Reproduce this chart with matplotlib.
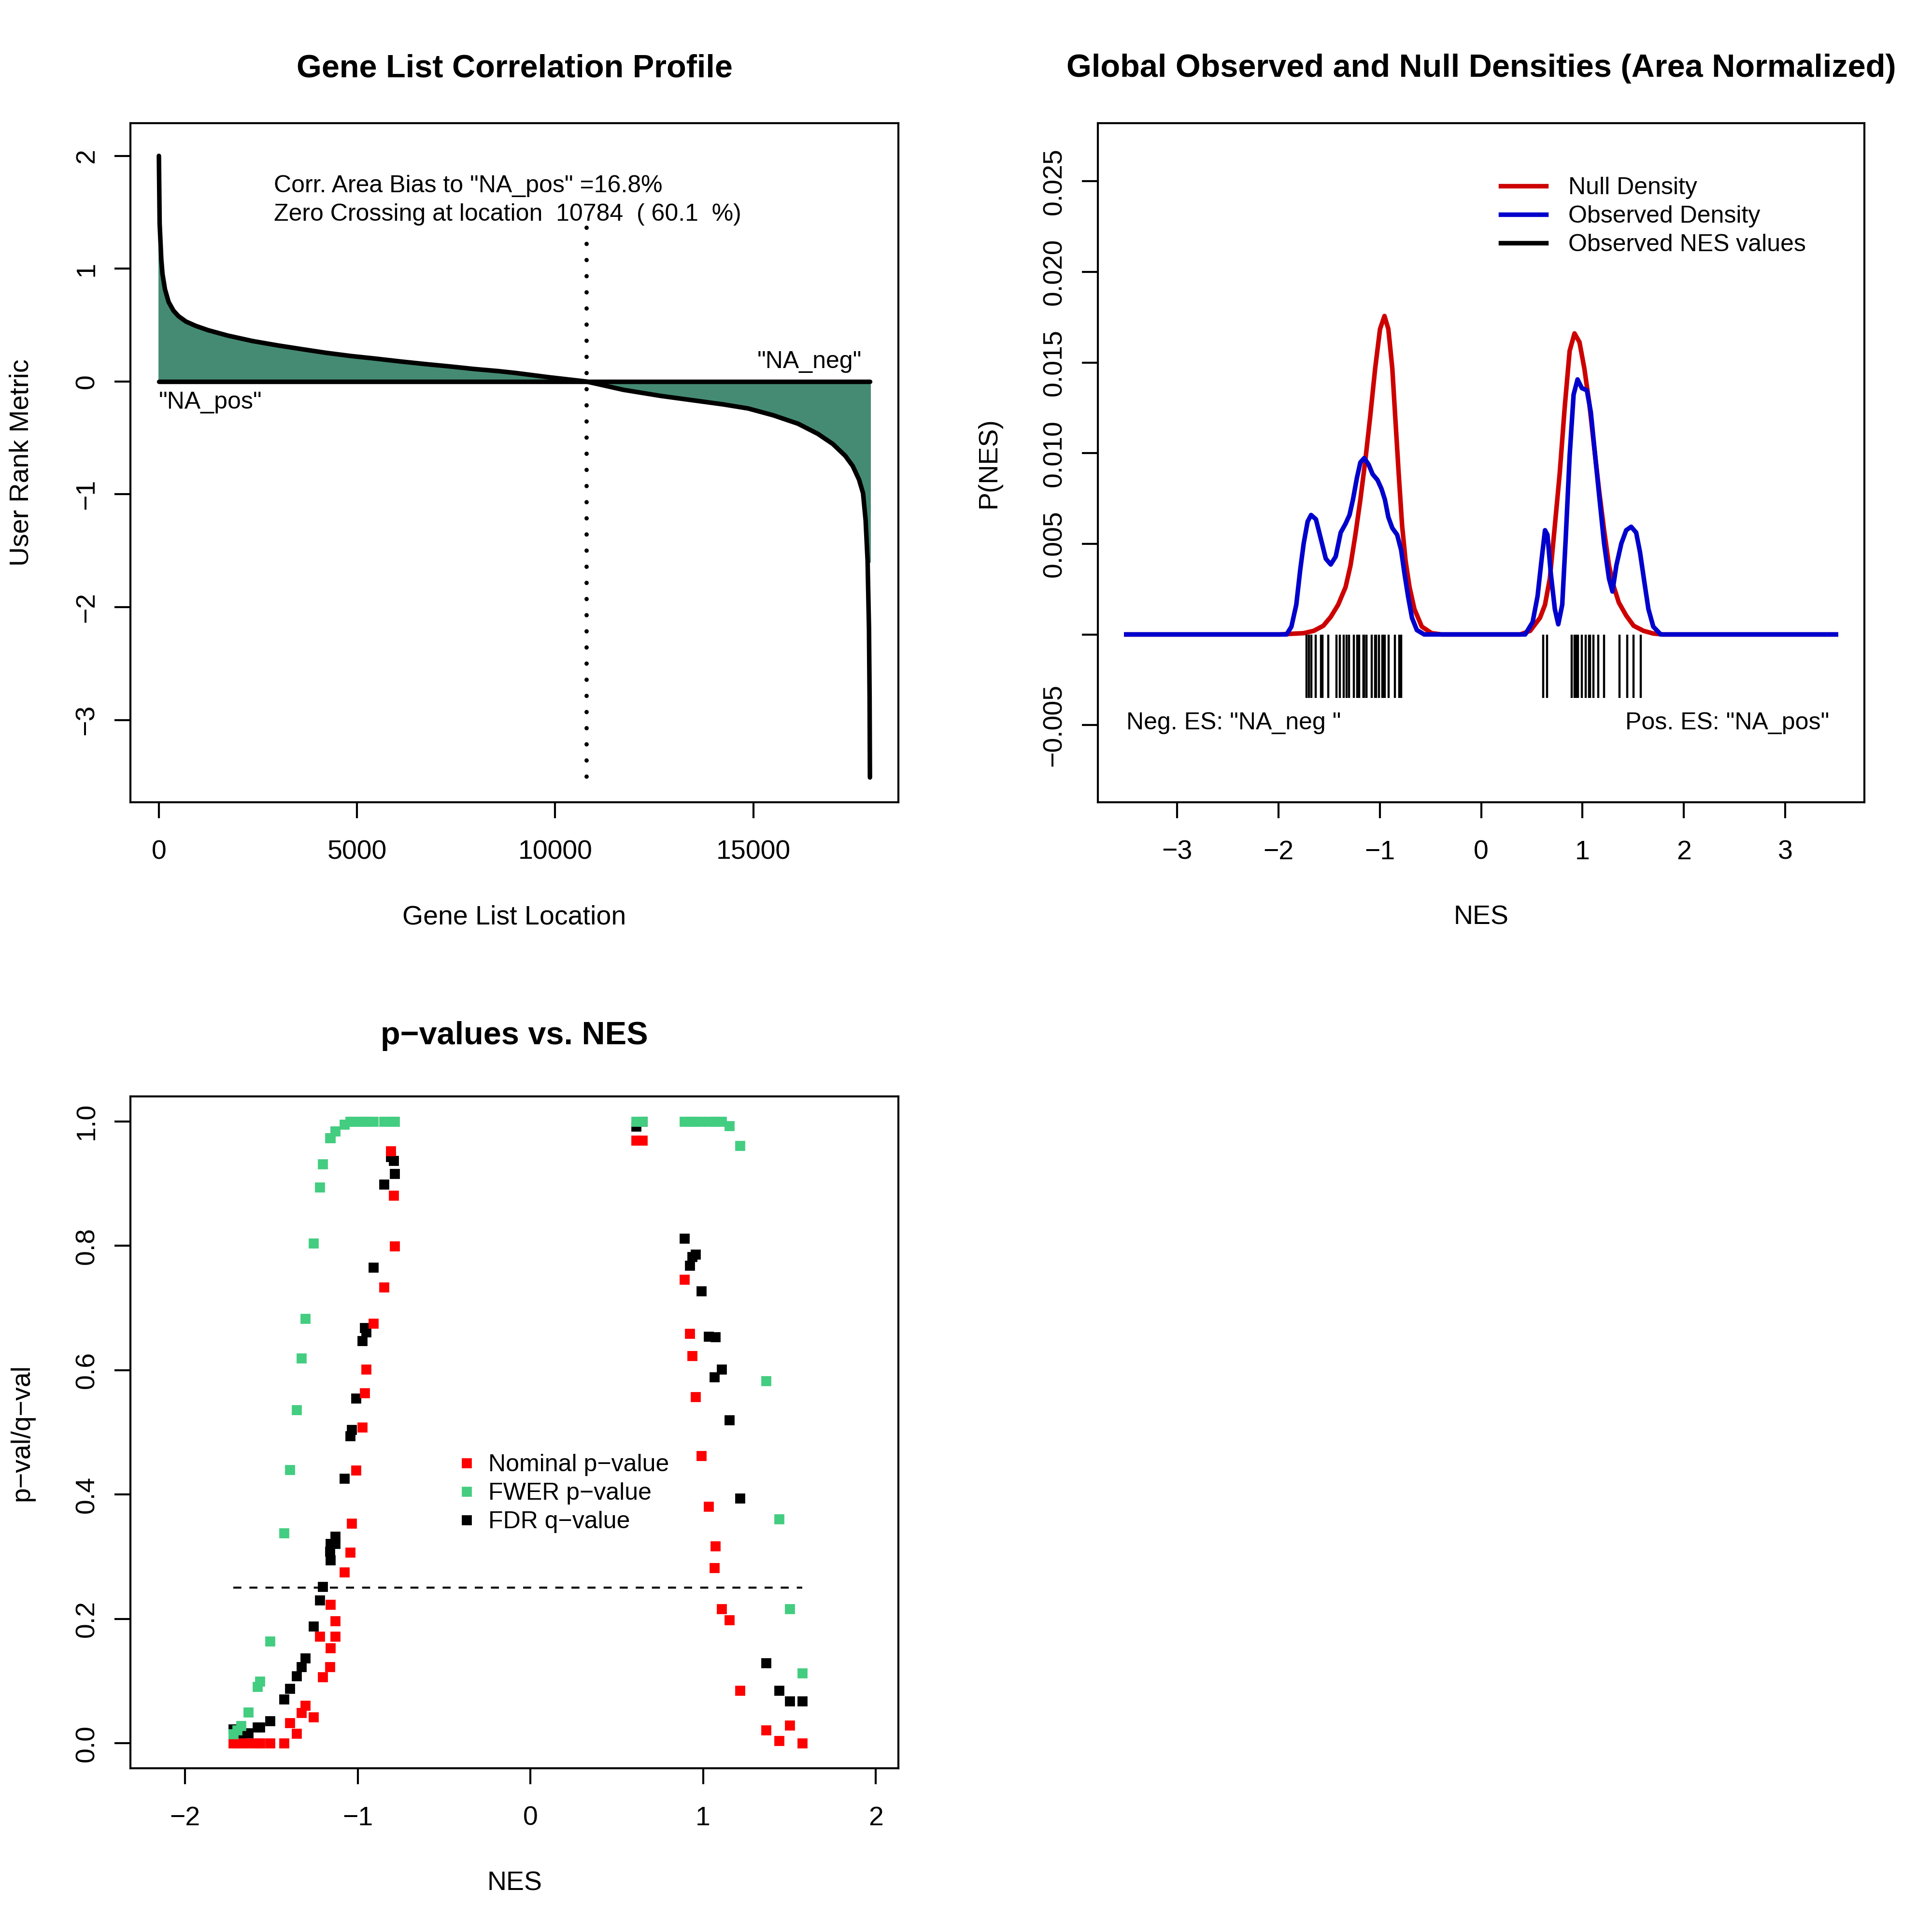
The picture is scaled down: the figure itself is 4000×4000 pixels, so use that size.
import numpy as np
from matplotlib import pyplot
from matplotlib.lines import Line2D

pyplot.rcParams["font.family"] = ["Liberation Sans", "DejaVu Sans"]
pyplot.rcParams["font.size"] = 10
pyplot.rcParams["axes.linewidth"] = 0.75

# Gene list correlation profile (ranked metric along the gene list)
gene_location = [1, 20, 61, 92, 154, 247, 371, 496, 682, 931, 1241, 1739, 2360, 2981,
                 3602, 4223, 4844, 5465, 6086, 6707, 7328, 7949, 8570, 8993, 9839, 10784,
                 11725, 12669, 13612, 14241, 14870, 15499, 16128, 16630, 17008, 17322,
                 17511, 17669, 17770, 17835, 17885, 17920, 17935, 17944]
rank_metric = [2.0, 1.40, 1.086, 0.952, 0.818, 0.704, 0.627, 0.579, 0.532, 0.493, 0.455,
               0.407, 0.359, 0.321, 0.287, 0.254, 0.226, 0.203, 0.178, 0.155, 0.134, 0.111,
               0.092, 0.076, 0.038, 0.0, -0.074, -0.128, -0.173, -0.203, -0.239, -0.299,
               -0.374, -0.464, -0.554, -0.659, -0.750, -0.870, -0.990, -1.23, -1.59, -2.19,
               -2.79, -3.51]
zero_crossing = 10784
fill_floor = -1.6
crossing_line_top = 1.366
profile_text = ['Corr. Area Bias to "NA_pos" =16.8%',
                'Zero Crossing at location  10784  ( 60.1  %)']

# Global observed and null densities
null_nes = [-3.5, -1.99, -1.75, -1.65, -1.556, -1.483, -1.41, -1.337, -1.288, -1.24, -1.191,
            -1.142, -1.094, -1.045, -0.997, -0.953, -0.915, -0.876, -0.842, -0.813, -0.779,
            -0.745, -0.706, -0.658, -0.585, -0.488, -0.39, 0.386, 0.484, 0.581, 0.63, 0.678,
            0.727, 0.775, 0.824, 0.873, 0.921, 0.970, 1.018, 1.067, 1.115, 1.164, 1.213,
            1.261, 1.310, 1.358, 1.431, 1.504, 1.601, 1.698, 1.795, 3.5]
null_density = [0, 0, 0.00007, 0.0002, 0.00048, 0.00097, 0.00164, 0.00261, 0.00381, 0.0055,
                0.00744, 0.00961, 0.01202, 0.01468, 0.01685, 0.01757, 0.01685, 0.01468,
                0.01154, 0.00888, 0.00599, 0.00406, 0.00261, 0.0014, 0.00043, 0.00007, 0, 0,
                0.0002, 0.00092, 0.00164, 0.00309, 0.00599, 0.00888, 0.0125, 0.01564,
                0.01661, 0.01613, 0.01468, 0.01275, 0.01033, 0.00792, 0.00575, 0.00381,
                0.00261, 0.00176, 0.00104, 0.00048, 0.0002, 0.00005, 0, 0]
obs_nes = [-3.5, -1.919, -1.871, -1.823, -1.784, -1.75, -1.711, -1.677, -1.629, -1.58, -1.532,
           -1.483, -1.434, -1.385, -1.337, -1.298, -1.264, -1.225, -1.191, -1.153, -1.109,
           -1.07, -1.022, -0.983, -0.949, -0.915, -0.876, -0.828, -0.789, -0.755, -0.721,
           -0.682, -0.634, -0.561, 0.435, 0.508, 0.557, 0.595, 0.630, 0.654, 0.688, 0.727,
           0.761, 0.80, 0.834, 0.873, 0.912, 0.951, 0.994, 1.043, 1.082, 1.125, 1.164, 1.213,
           1.261, 1.295, 1.334, 1.383, 1.431, 1.480, 1.529, 1.567, 1.611, 1.650, 1.698,
           1.771, 3.5]
obs_density = [0, 0, 0.00043, 0.00164, 0.00357, 0.00502, 0.00623, 0.00659, 0.00635, 0.00526,
               0.00418, 0.00386, 0.0043, 0.00562, 0.00611, 0.00659, 0.00744, 0.00864, 0.00949,
               0.00973, 0.00937, 0.00884, 0.00852, 0.00804, 0.00744, 0.00647, 0.00587, 0.0055,
               0.00466, 0.00333, 0.00212, 0.00092, 0.00024, 0, 0, 0.00068, 0.00212, 0.00406,
               0.00575, 0.0055, 0.00333, 0.0014, 0.00056, 0.00164, 0.00526, 0.00985, 0.01323,
               0.01407, 0.01359, 0.01347, 0.01226, 0.00985, 0.00768, 0.00502, 0.00309,
               0.00237, 0.00381, 0.00502, 0.00575, 0.00594, 0.00562, 0.00454, 0.00285,
               0.0014, 0.00043, 0, 0]
rug_depth = -0.0035

# Per gene set results
nes = [-1.721, -1.697, -1.676, -1.633, -1.581, -1.567, -1.509, -1.427, -1.392, -1.355,
       -1.327, -1.303, -1.257, -1.220, -1.202, -1.161, -1.159, -1.157, -1.131, -1.129,
       -1.077, -1.044, -1.035, -1.009, -0.973, -0.960, -0.952, -0.910, -0.848, -0.809,
       -0.792, -0.787,
       0.613, 0.648, 0.891, 0.923, 0.938, 0.956, 0.991, 1.031, 1.066, 1.072, 1.108, 1.153,
       1.214, 1.364, 1.440, 1.503, 1.573]
nominal_p = [0, 0, 0, 0, 0, 0, 0, 0, 0.033, 0.016, 0.049, 0.061, 0.042, 0.172, 0.107, 0.123,
             0.153, 0.223, 0.197, 0.172, 0.275, 0.307, 0.354, 0.439, 0.508, 0.563, 0.601,
             0.675, 0.733, 0.952, 0.881, 0.799,
             0.969, 0.969, 0.746, 0.659, 0.623, 0.557, 0.462, 0.381, 0.282, 0.317, 0.216,
             0.198, 0.085, 0.021, 0.004, 0.029, 0.0]
fwer_p = [0.015, 0.021, 0.028, 0.050, 0.091, 0.100, 0.164, 0.338, 0.440, 0.536, 0.619, 0.683,
          0.804, 0.894, 0.931, 0.973, 0.973, 0.973, 0.984, 0.984, 0.995, 1, 1, 1, 1, 1, 1, 1,
          1, 1, 1, 1,
          1, 1, 1, 1, 1, 1, 1, 1, 1, 1, 1, 0.993, 0.961, 0.583, 0.361, 0.216, 0.113]
fdr_q = [0.023, 0.019, 0.012, 0.017, 0.026, 0.026, 0.036, 0.071, 0.088, 0.108, 0.123, 0.137,
         0.188, 0.230, 0.252, 0.309, 0.295, 0.321, 0.333, 0.321, 0.426, 0.494, 0.504, 0.555,
         0.647, 0.668, 0.661, 0.765, 0.899, 0.943, 0.937, 0.916,
         0.992, 1.0, 0.812, 0.768, 0.782, 0.786, 0.727, 0.654, 0.589, 0.653, 0.601, 0.520,
         0.394, 0.129, 0.085, 0.068, 0.068]
fdr_cutoff = 0.25

MINUS = "\u2212"
FIG_PX = 4000
NOTE_SIZE = 9


def axes_rect(left, top, right, bottom):
    """Axes rectangle in figure fraction from pixel edges"""
    return [left / FIG_PX, 1 - bottom / FIG_PX, (right - left) / FIG_PX, (bottom - top) / FIG_PX]


def style_axes(ax, size_px, title, title_pad, xlabel, ylabel):
    """R like box, ticks, rotated y tick labels and label placement"""
    width, height = size_px
    ax.set_title(title, fontsize=12, fontweight="bold", pad=title_pad)
    ax.set_xlabel(xlabel, fontsize=10)
    ax.set_ylabel(ylabel, fontsize=10)
    ax.xaxis.set_label_coords(0.5, -238 / height)
    ax.yaxis.set_label_coords(-225 / width, 0.5)
    ax.xaxis.label.set_va("center")
    ax.yaxis.label.set_va("center")
    ax.tick_params(direction="out", length=6, width=0.75, labelsize=10)
    ax.tick_params(axis="x", pad=8)
    ax.tick_params(axis="y", pad=5.5)
    pyplot.setp(ax.get_yticklabels(), rotation=90, va="center")


fig = pyplot.figure(figsize=(10, 10), dpi=400)

# --- Gene List Correlation Profile
ax1 = fig.add_axes(axes_rect(270, 255, 1860, 1661))
ax1.fill_between(gene_location, np.maximum(rank_metric, fill_floor), 0,
                 color="#458B74", edgecolor="#458B74", lw=0.5)
ax1.plot(gene_location, rank_metric, color="black", lw=1.7,
         solid_capstyle="round", solid_joinstyle="round")
ax1.plot([gene_location[0], gene_location[-1]], [0, 0], color="black", lw=1.7,
         solid_capstyle="round")
# drawn top down so the dot pattern starts at the upper end
ax1.plot([zero_crossing, zero_crossing], [crossing_line_top, min(rank_metric)],
         color="black", lw=1.6, linestyle=(0, (0.01, 3.75)), dash_capstyle="round")
ax1.text(2900, 1.735, profile_text[0], fontsize=NOTE_SIZE, va="center", ha="left")
ax1.text(2900, 1.48, profile_text[1], fontsize=NOTE_SIZE, va="center", ha="left")
ax1.text(gene_location[0], -0.185, '"NA_pos"', fontsize=NOTE_SIZE, va="center", ha="left")
ax1.text(17735, 0.173, '"NA_neg"', fontsize=NOTE_SIZE, va="center", ha="right")
ax1.set_xlim(-0.04 * gene_location[-1], 1.04 * gene_location[-1])
ax1.set_ylim(-3.73, 2.29)
ax1.set_xticks([0, 5000, 10000, 15000])
ax1.set_yticks([-3, -2, -1, 0, 1, 2])
style_axes(ax1, (1590, 1406), "Gene List Correlation Profile", 17.2,
           "Gene List Location", "User Rank Metric")

# --- Global Observed and Null Densities
ax2 = fig.add_axes(axes_rect(2273, 255, 3860, 1661))
ax2.plot(null_nes, null_density, color="#CD0000", lw=1.7, solid_joinstyle="round")
ax2.plot(obs_nes, obs_density, color="#0000CD", lw=1.7, solid_joinstyle="round")
ax2.vlines(nes, rug_depth, 0, color="black", lw=0.8)
ax2.text(-3.5, -0.0049, 'Neg. ES: "NA_neg "', fontsize=NOTE_SIZE, va="center", ha="left")
ax2.text(3.435, -0.0049, 'Pos. ES: "NA_pos"', fontsize=NOTE_SIZE, va="center", ha="right")
ax2.set_xlim(-3.5 - 0.28, 3.5 + 0.28)
ax2.set_ylim(-0.00926, 0.02821)
ax2.set_xticks([-3, -2, -1, 0, 1, 2, 3])
density_ticks = [-0.005, 0.0, 0.005, 0.010, 0.015, 0.020, 0.025]
ax2.set_yticks(density_ticks)
ax2.set_yticklabels([MINUS + "0.005", "", "0.005", "0.010", "0.015", "0.020", "0.025"])
legend_handles = [Line2D([], [], color="#CD0000", lw=1.7),
                  Line2D([], [], color="#0000CD", lw=1.7),
                  Line2D([], [], color="black", lw=1.7)]
ax2.legend(legend_handles, ["Null Density", "Observed Density", "Observed NES values"],
           loc="center left", bbox_to_anchor=(0.5255, 0.8625), frameon=False,
           fontsize=NOTE_SIZE, handlelength=1.88, handletextpad=0.92, labelspacing=0.26,
           borderpad=0, borderaxespad=0)
style_axes(ax2, (1587, 1406), "Global Observed and Null Densities (Area Normalized)", 17.2,
           "NES", "P(NES)")

# --- p-values vs. NES
ax3 = fig.add_axes(axes_rect(270, 2270, 1860, 3661))
ax3.plot([min(nes), max(nes)], [fdr_cutoff, fdr_cutoff], color="black", lw=0.75,
         linestyle=(0, (4, 4)))
marker_style = dict(linestyle="none", marker="s", markersize=3.3, markeredgewidth=0.5)
ax3.plot(nes, fdr_q, color="black", **marker_style)
ax3.plot(nes, nominal_p, color="#FF0000", **marker_style)
ax3.plot(nes, fwer_p, color="#43CD80", **marker_style)
nes_range = (min(nes) * 1.25, max(nes) * 1.25)
pad = 0.04 * (nes_range[1] - nes_range[0])
ax3.set_xlim(nes_range[0] - pad, nes_range[1] + pad)
ax3.set_ylim(-0.04, 1.04)
ax3.set_xticks([-2, -1, 0, 1, 2])
ax3.set_yticks([0.0, 0.2, 0.4, 0.6, 0.8, 1.0])
ax3.set_yticklabels(["0.0", "0.2", "0.4", "0.6", "0.8", "1.0"])
point_handles = [Line2D([], [], color=c, **marker_style)
                 for c in ("#FF0000", "#43CD80", "black")]
ax3.legend(point_handles, ["Nominal p" + MINUS + "value", "FWER p" + MINUS + "value",
                           "FDR q" + MINUS + "value"],
           loc="center left", bbox_to_anchor=(0.4205, 0.4088), frameon=False,
           fontsize=NOTE_SIZE, handlelength=1.11, handletextpad=0.33, labelspacing=0.26,
           borderpad=0, borderaxespad=0, numpoints=1)
style_axes(ax3, (1590, 1391), "p" + MINUS + "values vs. NES", 19.5,
           "NES", "p" + MINUS + "val/q" + MINUS + "val")

fig.savefig("out.png", dpi=400)
